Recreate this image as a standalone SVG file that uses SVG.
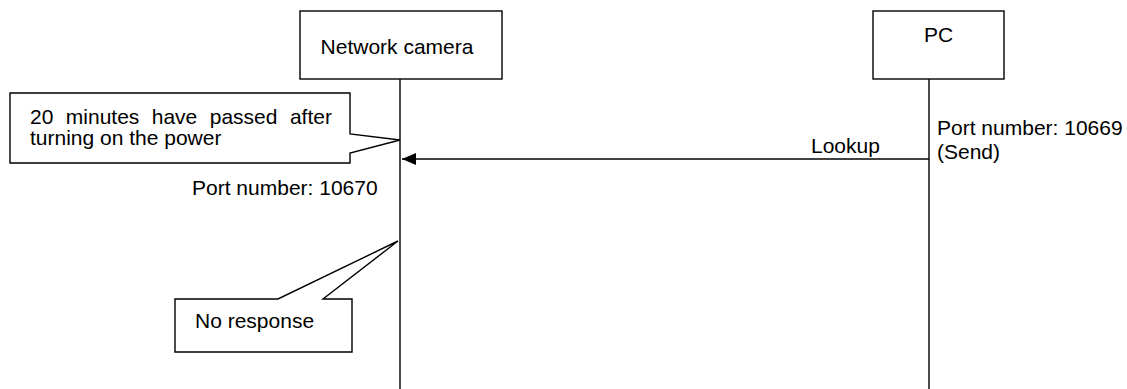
<svg xmlns="http://www.w3.org/2000/svg" width="1127" height="389" viewBox="0 0 1127 389">
  <style>
    .box { fill: #ffffff; stroke: #000000; stroke-width: 1.4; }
    .life { stroke: #000000; stroke-width: 1.4; fill: none; }
    .txt { font-family: "Liberation Sans", Arial, sans-serif; font-size: 21px; fill: #000000; }
  </style>
  <defs>
    <marker id="arrowHead" markerWidth="14" markerHeight="12" refX="14" refY="6" orient="auto" markerUnits="userSpaceOnUse">
      <path d="M0,0 L14,6 L0,12 Z" fill="#000000"/>
    </marker>
  </defs>
  <rect width="1127" height="389" fill="#ffffff"/>

  <!-- lifelines and message -->
  <g id="connectors">
    <line class="life" x1="400" y1="79" x2="400" y2="389"/>
    <line class="life" x1="929" y1="79" x2="929" y2="389"/>
    <line class="life" x1="929" y1="159" x2="402" y2="159" marker-end="url(#arrowHead)"/>
    <text class="txt" x="811" y="153">Lookup</text>
  </g>

  <g id="camera">
    <rect class="box" x="300" y="11" width="202" height="68"/>
    <text class="txt" x="397" y="54" text-anchor="middle">Network camera</text>
    <text class="txt" x="192" y="195">Port number: 10670</text>
  </g>

  <g id="pc">
    <rect class="box" x="873" y="11" width="131" height="68"/>
    <text class="txt" x="938.5" y="42" text-anchor="middle">PC</text>
    <text class="txt" x="937" y="135">Port number: 10669</text>
    <text class="txt" x="937" y="159">(Send)</text>
  </g>

  <g id="note-power">
    <path class="box" d="M10,93 H350 V134 L400,140 L350,153 V163 H10 Z"/>
    <text class="txt" x="30" y="124" word-spacing="6.6">20 minutes have passed after</text>
    <text class="txt" x="30" y="145">turning on the power</text>
  </g>

  <g id="note-response">
    <path class="box" d="M175,299 H278 L398,241 L323,299 H352 V352 H175 Z"/>
    <text class="txt" x="195" y="328">No response</text>
  </g>
</svg>
